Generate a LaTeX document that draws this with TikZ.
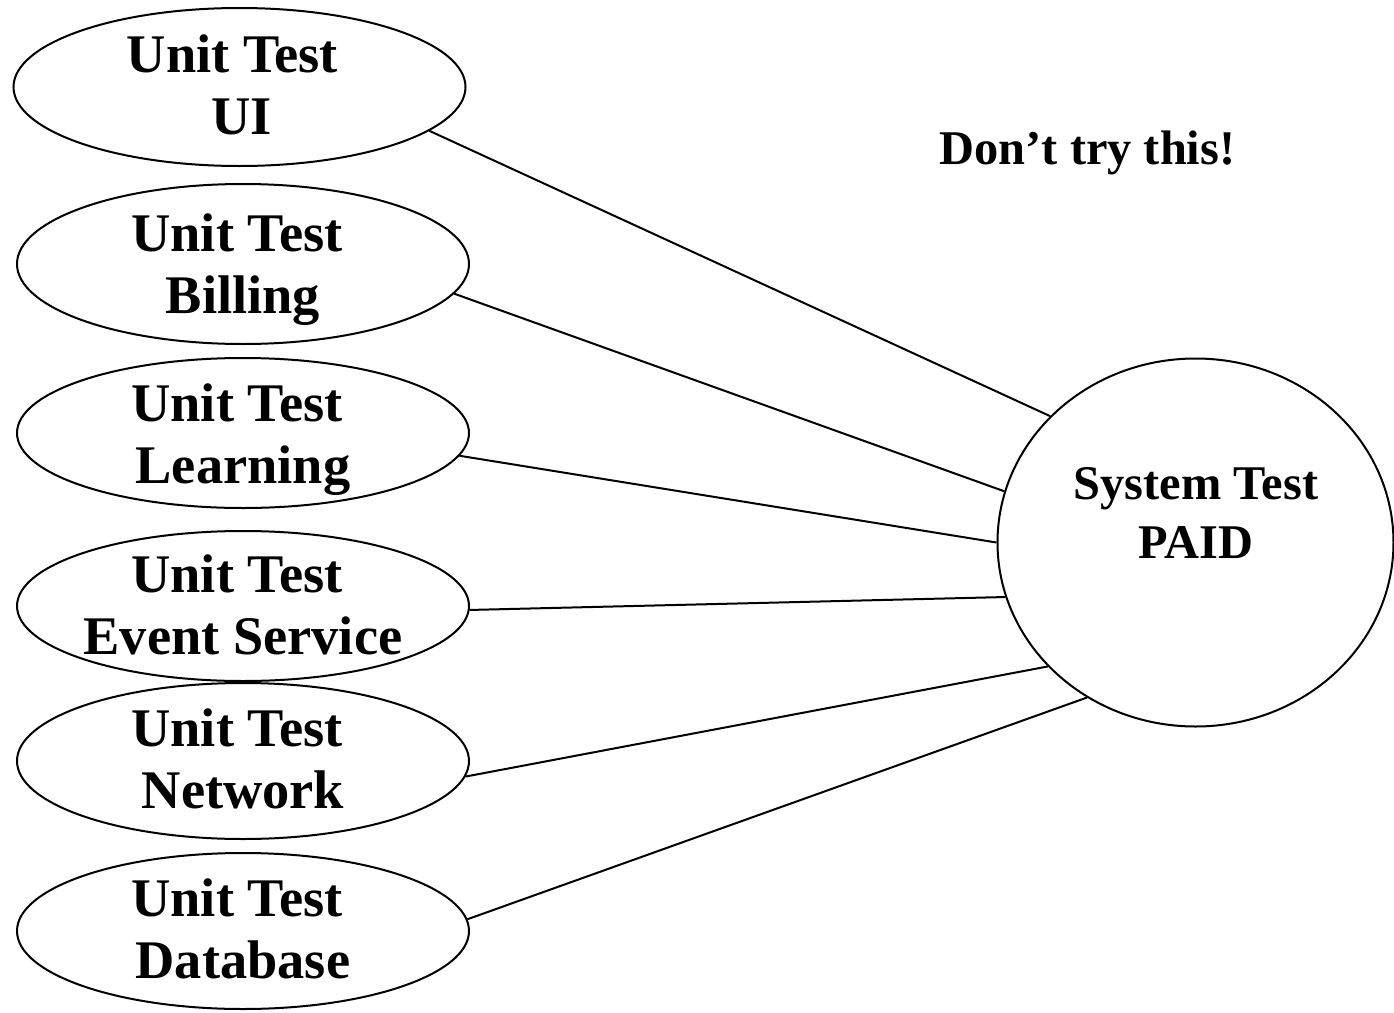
\documentclass[tikz,border=0pt]{standalone}
\usepackage{fontspec}
\setmainfont{Liberation Serif}
\usetikzlibrary{shapes.geometric}
\begin{document}
\begin{tikzpicture}[x=0.5pt,y=-0.5pt,line width=1pt,
  unitbox/.style={draw,ellipse,inner sep=0pt,minimum width=226pt,minimum height=#1},
  unitlbl/.style={inner sep=0pt,align=center,font=\fontsize{27.2}{31}\selectfont\bfseries},
  syslbl/.style={inner sep=0pt,align=center,font=\fontsize{24.2}{29.5}\selectfont\bfseries},
  conn/.style={line width=1pt}]
\useasboundingbox (0,0) rectangle (1394,1013);
\fill[white] (0,0) rectangle (1394,1013);

% unit test ellipses
\node[unitbox=79pt] (ui) at (239.5,87) {};
\node[unitbox=80pt] (bill) at (243,264) {};
\node[unitbox=75pt] (learn) at (243,433) {};
\node[unitbox=75pt] (event) at (243,606) {};
\node[unitbox=78pt] (net) at (243,761) {};
\node[unitbox=78pt] (db) at (243,931) {};

\node[unitlbl] (uiT) at (241.5,85) {Unit Test\hspace*{9pt}\\UI};
\node[unitlbl] (billT) at (243,270) {Unit Test\hspace*{6pt}\\Billing};
\node[unitlbl] (learnT) at (243,440) {Unit Test\hspace*{6pt}\\Learning};
\node[unitlbl] (eventT) at (243,605) {Unit Test\hspace*{6pt}\\Event Service};
\node[unitlbl] (netT) at (243,759) {Unit Test\hspace*{6pt}\\Network};
\node[unitlbl] (dbT) at (243,929) {Unit Test\hspace*{6pt}\\Database};

% system test
\node[draw,ellipse,inner sep=0pt,minimum width=198pt,minimum height=184pt] (sys) at (1195.5,542.5) {};
\node[syslbl] (sysT) at (1196,513) {System Test\\PAID};

\node[syslbl,anchor=base] (warn) at (1087.5,164) {Don’t try this!};

% connectors
\draw[conn] (ui.-13.1) -- (sys.139.4);
\draw[conn] (bill.-8.1) -- (sys.165.7);
\draw[conn] (learn.-6.8) -- (sys.180);
\draw[conn] (event.-1.8) -- (sys.196.7);
\draw[conn] (net.-4.3) -- (sys.220.3);
\draw[conn] (db.3.5) -- (sys.235.8);
\end{tikzpicture}
\end{document}
